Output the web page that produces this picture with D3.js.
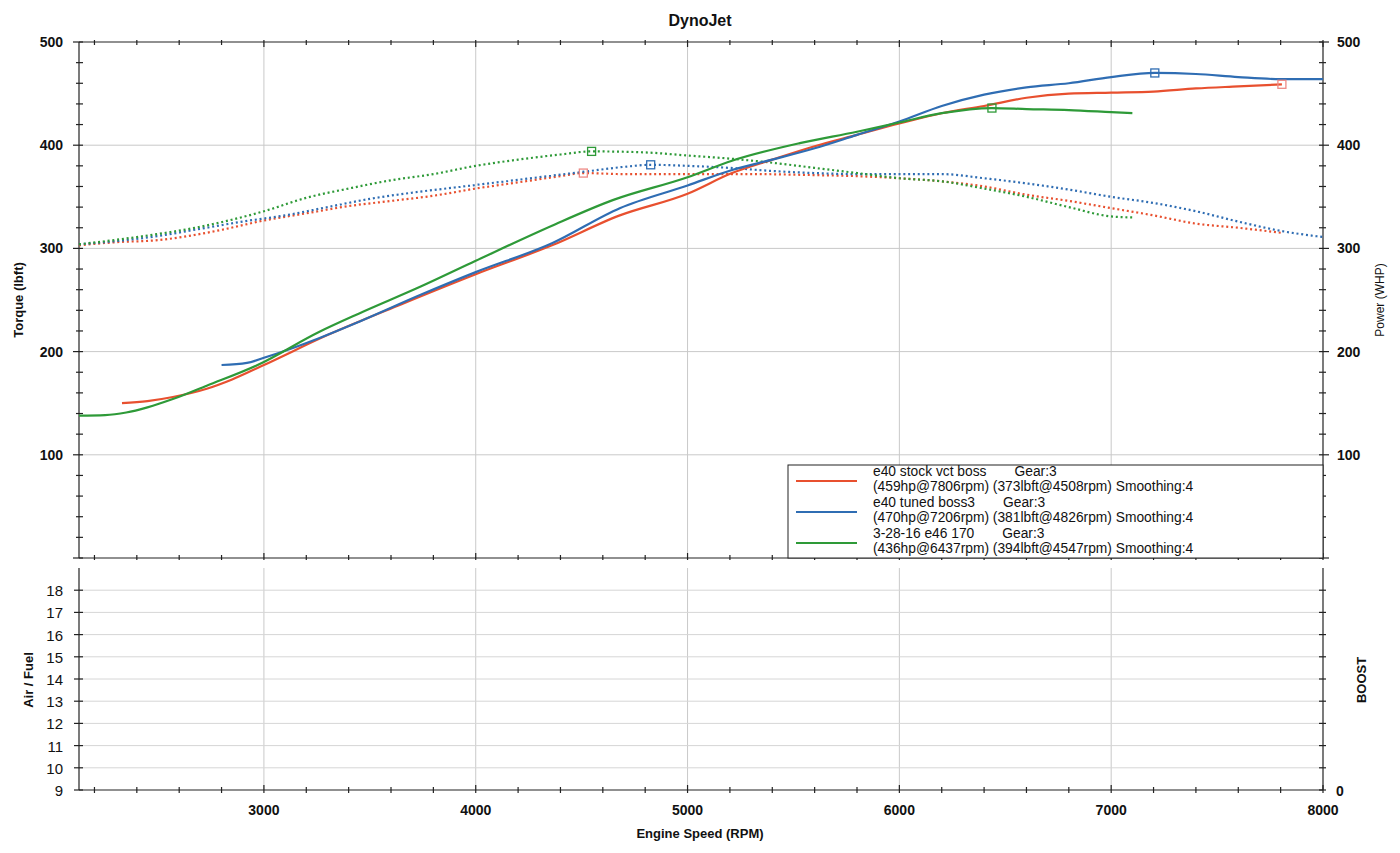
<!DOCTYPE html>
<html>
<head>
<meta charset="utf-8">
<script src="https://cdn.jsdelivr.net/npm/d3@7"></script>
<style>
  body { margin: 0; background: #fff; }
  text { font-family: "Liberation Sans", Arial, sans-serif; fill: #111; }
</style>
</head>
<body>
<svg id="chart" width="1400" height="853"></svg>
<script>
// ---- data ----
const runNames = ["e40 stock vct boss", "e40 tuned boss3", "3-28-16 e46 170"];
const runGear = ["Gear:3", "Gear:3", "Gear:3"];
const runDetails = [
  "(459hp@7806rpm) (373lbft@4508rpm) Smoothing:4",
  "(470hp@7206rpm) (381lbft@4826rpm) Smoothing:4",
  "(436hp@6437rpm) (394lbft@4547rpm) Smoothing:4"
];
const runColors = ["#e8502f", "#2f6db3", "#2e9a38"];
const markerColors = ["#ee8a86", "#2f6db3", "#2e9a38"];

const rpmTicks = [3000, 4000, 5000, 6000, 7000, 8000];
const torqueTicks = [100, 200, 300, 400, 500];
const afrTicks = [9, 10, 11, 12, 13, 14, 15, 16, 17, 18];

// power (solid), [rpm, whp]
const stockPower = [[2330,150],[2450,152],[2570,156],[2730,164],[2850,173],[3000,187],[3300,216],[3650,246],[4000,275],[4360,303],[4680,332],[5000,353],[5210,373],[5400,386],[5600,399],[5800,410],[6000,421],[6200,431],[6400,438],[6600,446],[6800,450],[7000,451],[7200,452],[7400,455],[7600,457],[7806,459]];
const tunedPower = [[2800,187],[2920,189],[3000,194],[3260,213],[3450,229],[3740,255],[4000,277],[4360,305],[4680,339],[5000,361],[5210,376],[5400,386],[5600,397],[5800,410],[6000,423],[6200,438],[6400,449],[6600,456],[6800,460],[7000,466],[7206,470],[7400,469],[7600,466],[7800,464],[8000,464]];
const e46Power = [[2127,138],[2250,138.5],[2350,141],[2450,146],[2570,154],[2730,167],[2970,187],[3260,219],[3450,237],[3740,263],[4000,288],[4360,322],[4650,347],[5000,369],[5210,385],[5530,402],[5800,413],[6000,422],[6200,431],[6437,436],[6600,435],[6800,434],[7000,432],[7100,431]];

// torque (dotted), [rpm, lbft]
const stockTorque = [[2127,303],[2300,306],[2500,308],[2700,314],[2800,318],[3000,327],[3200,334],[3400,341],[3600,346],[3800,351],[4000,358],[4200,364],[4400,370],[4508,373],[4700,372],[5000,372],[5300,372],[5600,371],[5800,370],[6000,368],[6200,365],[6400,360],[6600,352],[6800,346],[7000,339],[7200,332],[7400,324],[7600,320],[7806,315]];
const tunedTorque = [[2127,304],[2300,307],[2500,312],[2700,319],[2900,326],[3100,332],[3300,340],[3500,348],[3700,354],[3900,359],[4100,364],[4300,369],[4500,374],[4700,379],[4826,381],[5000,380],[5200,378],[5400,375],[5600,373],[5800,372],[6000,372],[6200,372],[6400,368],[6600,363],[6800,357],[7000,350],[7200,344],[7400,336],[7600,326],[7800,317],[8000,311]];
const e46Torque = [[2127,304],[2400,311],[2700,321],[3000,336],[3200,349],[3400,358],[3600,366],[3800,372],[4000,380],[4200,386],[4400,391],[4547,394],[4800,393],[5000,390],[5200,387],[5400,383],[5600,378],[5800,373],[6000,368],[6200,365],[6400,358],[6600,350],[6800,340],[7000,331],[7100,330]];

const powerRuns = [stockPower, tunedPower, e46Power];
const torqueRuns = [stockTorque, tunedTorque, e46Torque];

// ---- layout ----
const svg = d3.select("#chart");
const left = 79, right = 1323;
const topY0 = 42, topY1 = 558, lowY0 = 568, lowY1 = 790;

const x = d3.scaleLinear().domain([2127, 8000]).range([left, right]);
const y = d3.scaleLinear().domain([0, 500]).range([topY1, topY0]);
const yAfr = d3.scaleLinear().domain([9, 19]).range([lowY1, lowY0]);

const gridColor = "#c9c9c9";
const axisColor = "#222";

svg.append("text").attr("x", 700).attr("y", 26).attr("text-anchor", "middle")
  .attr("font-size", 16).attr("font-weight", "bold").text("DynoJet");

// grids
const grid = svg.append("g");
rpmTicks.filter((d) => d < 8000).forEach((d) => {
  grid.append("line").attr("x1", x(d)).attr("x2", x(d)).attr("y1", topY0).attr("y2", topY1)
    .attr("stroke", gridColor);
  grid.append("line").attr("x1", x(d)).attr("x2", x(d)).attr("y1", lowY0).attr("y2", lowY1)
    .attr("stroke", gridColor);
});
torqueTicks.filter((d) => d < 500).forEach((d) => {
  grid.append("line").attr("x1", left).attr("x2", right).attr("y1", y(d)).attr("y2", y(d))
    .attr("stroke", gridColor);
});
afrTicks.filter((d) => d > 9).forEach((d) => {
  grid.append("line").attr("x1", left).attr("x2", right).attr("y1", yAfr(d)).attr("y2", yAfr(d))
    .attr("stroke", "#d6d6d6");
});

// axes frame + ticks
const frame = svg.append("g").attr("stroke", axisColor).attr("stroke-width", 1.2);
frame.append("line").attr("x1", left).attr("x2", right).attr("y1", topY0).attr("y2", topY0);
frame.append("line").attr("x1", left).attr("x2", right).attr("y1", topY1).attr("y2", topY1);
frame.append("line").attr("x1", left).attr("x2", left).attr("y1", topY0).attr("y2", topY1);
frame.append("line").attr("x1", right).attr("x2", right).attr("y1", topY0).attr("y2", topY1);
frame.append("line").attr("x1", left).attr("x2", left).attr("y1", lowY0).attr("y2", lowY1);
frame.append("line").attr("x1", right).attr("x2", right).attr("y1", lowY0).attr("y2", lowY1);
frame.append("line").attr("x1", left).attr("x2", right).attr("y1", lowY1).attr("y2", lowY1);

const minorRpm = d3.range(2200, 8001, 200);
minorRpm.forEach((d) => {
  const major = d % 1000 === 0;
  frame.append("line").attr("x1", x(d)).attr("x2", x(d)).attr("y1", topY0 - 2).attr("y2", topY0 + (major ? 5 : 3));
  frame.append("line").attr("x1", x(d)).attr("x2", x(d)).attr("y1", topY1 - (major ? 5 : 3)).attr("y2", topY1 + 2);
  frame.append("line").attr("x1", x(d)).attr("x2", x(d)).attr("y1", lowY1 - (major ? 5 : 3)).attr("y2", lowY1 + 3);
});
d3.range(0, 501, 20).forEach((d) => {
  const major = d % 100 === 0;
  frame.append("line").attr("x1", left - (major ? 6 : 3)).attr("x2", left + 4).attr("y1", y(d)).attr("y2", y(d));
  frame.append("line").attr("x1", right - 4).attr("x2", right + (major ? 6 : 3)).attr("y1", y(d)).attr("y2", y(d));
});
afrTicks.forEach((d) => {
  frame.append("line").attr("x1", left - 5).attr("x2", left + 4).attr("y1", yAfr(d)).attr("y2", yAfr(d));
  frame.append("line").attr("x1", right - 4).attr("x2", right + 3).attr("y1", yAfr(d)).attr("y2", yAfr(d));
});

// tick labels
const labels = svg.append("g").attr("font-size", 14).attr("font-weight", "bold");
torqueTicks.forEach((d) => {
  labels.append("text").attr("x", 63).attr("y", y(d) + 5).attr("text-anchor", "end").text(d);
  labels.append("text").attr("x", 1337).attr("y", y(d) + 5).text(d);
});
afrTicks.forEach((d) => {
  svg.append("text").attr("x", 63).attr("y", yAfr(d) + 6).attr("text-anchor", "end")
    .attr("font-size", 15).text(d);
});
svg.append("text").attr("x", 1336).attr("y", lowY1 + 6).attr("font-size", 14).attr("font-weight", "bold").text("0");
rpmTicks.forEach((d) => {
  labels.append("text").attr("x", x(d)).attr("y", 815).attr("text-anchor", "middle").text(d);
});

// axis titles
const titles = svg.append("g").attr("font-size", 13).attr("font-weight", "bold");
titles.append("text").attr("transform", "translate(23,300) rotate(-90)").attr("text-anchor", "middle").text("Torque (lbft)");
titles.append("text").attr("transform", "translate(1384,300) rotate(-90)").attr("text-anchor", "middle")
  .attr("font-weight", "normal").attr("font-size", 12).text("Power (WHP)");
titles.append("text").attr("transform", "translate(33,680) rotate(-90)").attr("text-anchor", "middle").text("Air / Fuel");
titles.append("text").attr("transform", "translate(1366,680) rotate(-90)").attr("text-anchor", "middle").text("BOOST");
titles.append("text").attr("x", 700).attr("y", 838).attr("text-anchor", "middle").text("Engine Speed (RPM)");

// curves
const line = d3.line().x((d) => x(d[0])).y((d) => y(d[1])).curve(d3.curveMonotoneX);
const curves = svg.append("g").attr("fill", "none");

torqueRuns.forEach((run, i) => {
  curves.append("path").attr("d", line(run)).attr("stroke", runColors[i])
    .attr("stroke-width", 2.2).attr("stroke-dasharray", "2,2.8");
});
powerRuns.forEach((run, i) => {
  curves.append("path").attr("d", line(run)).attr("stroke", runColors[i]).attr("stroke-width", 2.2);
});

// peak markers
const marks = svg.append("g").attr("fill", "none").attr("stroke-width", 1.3);
[powerRuns, torqueRuns].forEach((set) => {
  set.forEach((run, i) => {
    const peak = d3.greatest(run, (d) => d[1]);
    marks.append("rect").attr("x", x(peak[0]) - 4).attr("y", y(peak[1]) - 4)
      .attr("width", 8).attr("height", 8).attr("stroke", markerColors[i]);
  });
});

// legend
const lg = svg.append("g");
lg.append("rect").attr("x", 788).attr("y", 465).attr("width", right - 788).attr("height", topY1 - 465)
  .attr("fill", "#fff").attr("stroke", axisColor).attr("stroke-width", 1);
runNames.forEach((name, i) => {
  const y0 = 476 + i * 31;
  lg.append("line").attr("x1", 796).attr("x2", 857).attr("y1", y0 + 5).attr("y2", y0 + 5)
    .attr("stroke", runColors[i]).attr("stroke-width", 2);
  const nameText = lg.append("text").attr("x", 873).attr("y", y0).attr("font-size", 13.8).text(name);
  const w = nameText.node().getComputedTextLength();
  lg.append("text").attr("x", 873 + w + 28).attr("y", y0).attr("font-size", 13.8).text(runGear[i]);
  lg.append("text").attr("x", 873).attr("y", y0 + 15).attr("font-size", 13.8).text(runDetails[i]);
});
</script>
</body>
</html>
